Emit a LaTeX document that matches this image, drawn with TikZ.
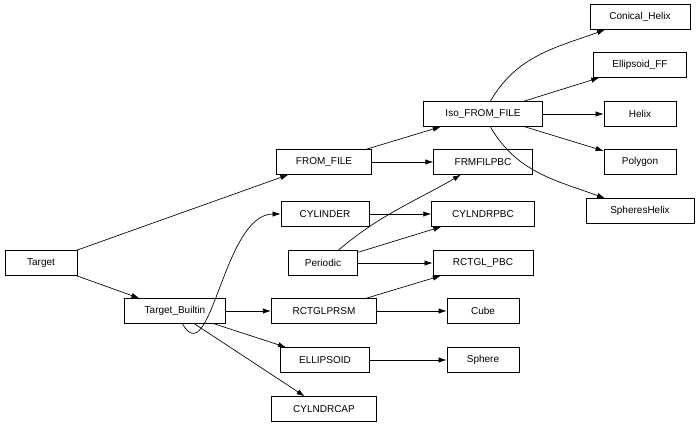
\documentclass[tikz,border=0pt]{standalone}
\usepackage{fontspec}
\setmainfont{Liberation Sans}
\usetikzlibrary{arrows.meta}
\begin{document}
\begin{tikzpicture}[x=0.75pt,y=-0.75pt,
 box/.style={draw,line width=0.6pt,minimum height=18.5pt,inner sep=0pt,font=\fontsize{7.5}{8}\selectfont},
 e/.style={-{Latex[length=6pt,width=4pt]},line width=0.5pt}]
\useasboundingbox (0,0) rectangle (697,431);
\node[box,minimum width=54pt] (t) at (41,263) {Target};
\node[box,minimum width=76pt] (tb) at (175,311) {Target\_Builtin};
\node[box,minimum width=71pt] (ff) at (324,162) {FROM\_FILE};
\node[box,minimum width=66pt] (cy) at (325,214) {CYLINDER};
\node[box,minimum width=52pt] (pe) at (323,263) {Periodic};
\node[box,minimum width=79pt] (rp) at (324,311) {RCTGLPRSM};
\node[box,minimum width=67pt] (el) at (325,360) {ELLIPSOID};
\node[box,minimum width=79pt] (cc) at (324,409) {CYLNDRCAP};
\node[box,minimum width=89pt] (iso) at (483,114) {Iso\_FROM\_FILE};
\node[box,minimum width=74pt] (fp) at (483,162) {FRMFILPBC};
\node[box,minimum width=77pt] (cp) at (483,214) {CYLNDRPBC};
\node[box,minimum width=75pt] (rpb) at (483,263) {RCTGL\_PBC};
\node[box,minimum width=54pt] (cu) at (483,311) {Cube};
\node[box,minimum width=54pt] (sp) at (483,360) {Sphere};
\node[box,minimum width=75pt] (ch) at (640,17) {Conical\_Helix};
\node[box,minimum width=70pt] (ef) at (640,65) {Ellipsoid\_FF};
\node[box,minimum width=54pt] (he) at (640,114) {Helix};
\node[box,minimum width=54pt] (po) at (640,162) {Polygon};
\node[box,minimum width=81pt] (sh) at (640,211) {SpheresHelix};
\draw[e] (t) -- (ff);
\draw[e] (t) -- (tb);
\draw[e] (tb) to[out=-60,in=180] (cy.west);
\draw[e] (tb) -- (rp);
\draw[e] (tb) -- (el);
\draw[e] (tb) -- (cc);
\draw[e] (ff) -- (iso);
\draw[e] (ff) -- (fp);
\draw[e] (cy) -- (cp);
\draw[e] (pe) to[out=40,in=210] (fp);
\draw[e] (pe) -- (cp);
\draw[e] (pe) -- (rpb);
\draw[e] (rp) -- (rpb);
\draw[e] (rp) -- (cu);
\draw[e] (el) -- (sp);
\draw[e] (iso) to[out=60,in=200] (ch);
\draw[e] (iso) -- (ef);
\draw[e] (iso) -- (he);
\draw[e] (iso) -- (po);
\draw[e] (iso) to[out=-60,in=160] (sh);
\end{tikzpicture}
\end{document}
